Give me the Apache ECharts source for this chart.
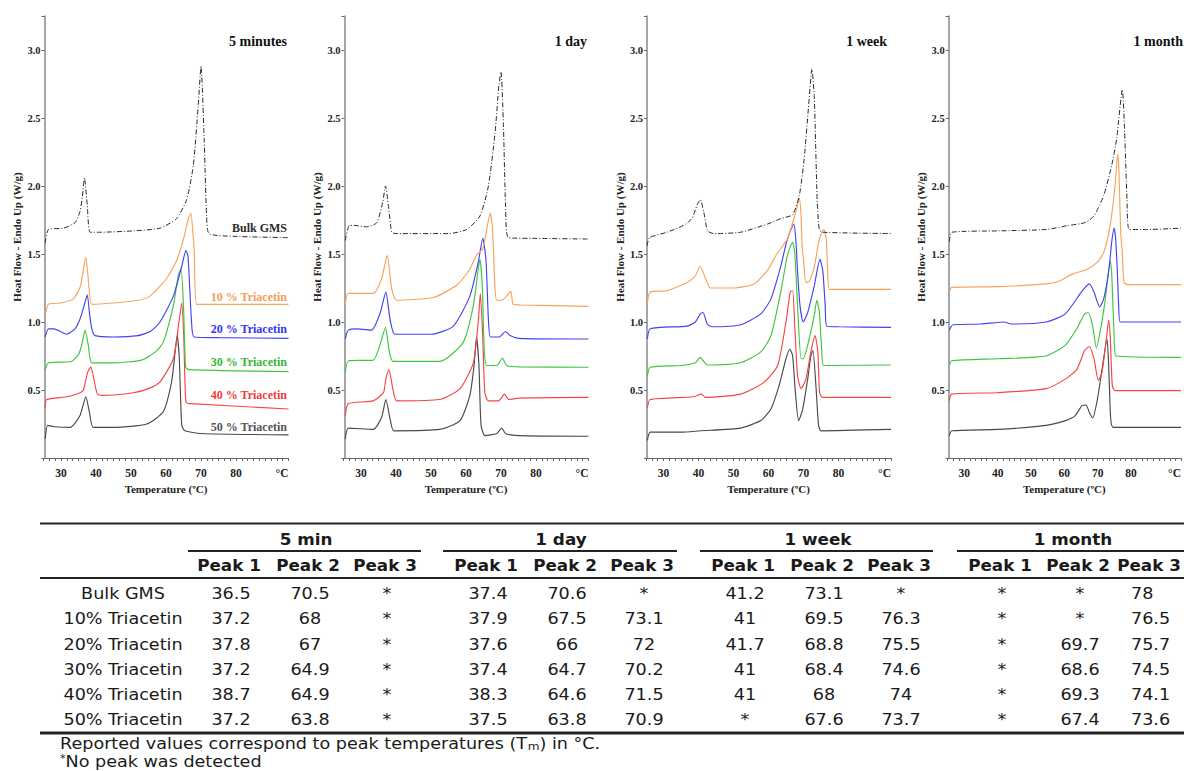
<!DOCTYPE html>
<html><head><meta charset="utf-8">
<script src="https://cdn.jsdelivr.net/npm/echarts@6/dist/echarts.min.js"></script>
<style>html,body{margin:0;padding:0;background:#fff;overflow:hidden}#c{width:1184px;height:771px}</style>
</head><body><div id="c"></div>
<script>
// ---------------- DATA: DSC curves [temperature °C, heat flow W/g] ----------------
const panelTitles = ['5 minutes', '1 day', '1 week', '1 month'];
const seriesNames = ['Bulk GMS', '10 % Triacetin', '20 % Triacetin', '30 % Triacetin', '40 % Triacetin', '50 % Triacetin'];

// 5 minutes
const bulk5m = [[25.5,1.58],[26.4,1.68],[30.7,1.69],[34,1.73],[35.4,1.81],[36.1,1.92],[36.7,2.06],[37.5,1.86],[38.3,1.66],[41,1.66],[50.7,1.67],[58.3,1.69],[63,1.76],[65.9,1.90],[67.8,2.15],[69.2,2.59],[70,2.88],[70.9,2.35],[71.6,1.78],[72.3,1.65],[79.2,1.63],[95,1.62]];
const tri10_5m = [[25.5,1.05],[26.4,1.13],[30,1.14],[33.5,1.17],[35.5,1.26],[37.1,1.475],[38,1.25],[38.8,1.13],[45,1.14],[52,1.16],[55.4,1.19],[60.2,1.32],[63,1.45],[65,1.61],[66.4,1.76],[67.1,1.80],[67.8,1.62],[68.1,1.50],[68.8,1.13],[75,1.13],[95,1.13]];
const tri20_5m = [[25.5,0.89],[26.4,0.95],[28,0.95],[31.6,0.91],[34,0.95],[35.4,1.02],[36.6,1.12],[37.5,1.20],[38.2,1.05],[38.8,0.95],[39.7,0.90],[45,0.89],[52,0.90],[55.5,0.93],[58.3,1.0],[62.1,1.19],[64.5,1.41],[65.7,1.525],[66.3,1.48],[67.3,1.0],[68,0.89],[75,0.885],[95,0.88]];
const tri30_5m = [[25.5,0.65],[26.4,0.70],[33,0.71],[35,0.76],[35.9,0.83],[36.9,0.94],[37.8,0.83],[38.8,0.70],[45,0.70],[53,0.72],[57,0.78],[59.2,0.85],[62.1,1.12],[63.5,1.34],[64.3,1.39],[65,1.12],[65.6,0.67],[66.5,0.65],[95,0.635]];
const tri40_5m = [[25.5,0.37],[25.9,0.43],[31.6,0.45],[35.5,0.48],[36.4,0.50],[37.6,0.63],[38.5,0.67],[39.4,0.58],[40.4,0.47],[42,0.46],[50.7,0.48],[55,0.51],[58.3,0.56],[62.1,0.73],[63.7,1.0],[64.5,1.14],[65.1,0.875],[65.7,0.41],[67,0.40],[95,0.36]];
const tri50_5m = [[25.5,0.14],[26.2,0.24],[28,0.23],[32.6,0.225],[35.4,0.31],[37.1,0.45],[38.1,0.34],[39.2,0.225],[45,0.225],[54.5,0.25],[59.2,0.34],[61.6,0.56],[62.6,0.78],[63.2,0.90],[63.8,0.73],[64.5,0.24],[65.4,0.20],[70,0.18],[95,0.17]];

// 1 day
const bulk1d = [[25.5,1.6],[26.7,1.71],[28,1.71],[31.6,1.70],[34.5,1.73],[36.2,1.88],[37,2.0],[37.8,1.86],[38.8,1.66],[40,1.65],[55,1.65],[60.2,1.68],[64,1.78],[66.4,2.0],[68.3,2.39],[69.4,2.74],[70,2.84],[70.7,2.44],[71.3,1.86],[72.1,1.62],[80,1.615],[95,1.61]];
const tri10_1d = [[25.5,1.13],[26.4,1.21],[33.5,1.21],[35.9,1.32],[37.5,1.49],[38.8,1.24],[40.2,1.16],[50.7,1.18],[57.3,1.27],[61.1,1.39],[63,1.49],[64.8,1.54],[65.9,1.68],[66.9,1.80],[67.5,1.71],[67.8,1.56],[68.3,1.24],[68.8,1.16],[70.2,1.16],[71.6,1.19],[72.8,1.225],[73.5,1.13],[76,1.125],[95,1.115]];
const tri20_1d = [[25.5,0.875],[26.4,0.94],[29,0.95],[33,0.94],[35.4,1.06],[37.1,1.22],[38.3,1.02],[39.7,0.91],[50,0.91],[56.4,0.97],[61.1,1.19],[63.5,1.44],[64.8,1.615],[65.7,1.46],[66.4,1.02],[67,0.89],[69.5,0.89],[71.3,0.93],[72.6,0.90],[75,0.88],[95,0.875]];
const tri30_1d = [[25.5,0.63],[26.4,0.715],[33.5,0.72],[35.4,0.83],[37,0.96],[38.1,0.78],[39.2,0.71],[52.5,0.71],[59.2,0.85],[62.1,1.12],[63.5,1.39],[64,1.46],[64.7,1.24],[65.2,0.80],[65.9,0.68],[68.8,0.68],[70.4,0.735],[71.6,0.68],[75,0.67],[95,0.667]];
const tri40_1d = [[25.5,0.31],[26.4,0.40],[33.5,0.42],[36.4,0.48],[37.1,0.58],[38,0.65],[38.95,0.53],[40.2,0.42],[52.5,0.43],[58.3,0.51],[62.1,0.70],[63.5,1.0],[64.1,1.21],[64.8,0.875],[65.4,0.48],[66.4,0.42],[69.3,0.42],[71,0.47],[72.2,0.43],[75,0.44],[95,0.446]];
const tri50_1d = [[25.5,0.14],[26.4,0.22],[33.5,0.21],[35.9,0.30],[37.1,0.43],[38.3,0.29],[39.4,0.20],[52.5,0.21],[58.3,0.275],[61.1,0.46],[62.3,0.68],[63,0.89],[63.7,0.68],[64.3,0.24],[65.4,0.165],[68.8,0.18],[70.2,0.22],[71.3,0.18],[75,0.165],[95,0.16]];

// 1 week
const bulk1w = [[25.3,1.56],[26,1.62],[31,1.66],[35.7,1.71],[38.1,1.76],[39.6,1.86],[40.5,1.90],[41.5,1.81],[42.6,1.67],[44.4,1.65],[52,1.66],[59.7,1.72],[63.5,1.76],[66.9,1.79],[68.8,1.93],[70.2,2.20],[71.4,2.57],[72.4,2.86],[73.1,2.64],[73.9,1.90],[74.5,1.68],[75.5,1.66],[95,1.65]];
const tri10_1w = [[25.4,1.14],[26.2,1.22],[31,1.23],[36.7,1.29],[39.1,1.34],[40.5,1.41],[42,1.32],[43.4,1.25],[50.1,1.25],[55.9,1.28],[59.7,1.38],[62.6,1.51],[65.4,1.61],[67.8,1.81],[68.8,1.91],[69.3,1.78],[69.6,1.56],[70,1.46],[70.7,1.29],[71.7,1.30],[73.1,1.41],[74.5,1.61],[75.3,1.66],[75.8,1.68],[76.5,1.61],[76.9,1.37],[77.4,1.24],[80,1.24],[95,1.24]];
const tri20_1w = [[25.4,0.875],[26.2,0.95],[36.7,0.97],[39.1,1.0],[40.5,1.06],[41.3,1.07],[42.5,0.985],[43.9,0.965],[52,0.98],[57.8,1.06],[60.7,1.17],[63.5,1.41],[65.4,1.61],[67.2,1.72],[67.8,1.61],[68.3,1.37],[69,1.12],[69.9,1.0],[71.2,1.07],[73.1,1.27],[74.7,1.46],[75.5,1.38],[76.2,1.12],[76.6,0.97],[80,0.965],[95,0.96]];
const tri30_1w = [[25.4,0.605],[26.2,0.667],[35,0.68],[39.1,0.70],[40.5,0.74],[41.5,0.71],[42.5,0.684],[52,0.70],[57.8,0.78],[60.7,0.90],[63.5,1.22],[65.4,1.49],[66.9,1.585],[67.5,1.51],[68.3,1.12],[69.3,0.73],[69.9,0.73],[71.2,0.83],[73.1,1.05],[73.8,1.16],[74.5,1.08],[75.2,0.80],[75.8,0.68],[95,0.684]];
const tri40_1w = [[25.4,0.37],[26.2,0.43],[38.6,0.45],[40.8,0.47],[42,0.446],[52,0.47],[58.7,0.556],[62.6,0.68],[65,1.0],[66.2,1.22],[66.9,1.23],[67.5,0.97],[68.3,0.605],[69.3,0.51],[70.7,0.58],[72.1,0.78],[73.3,0.90],[74.1,0.78],[74.6,0.48],[75.5,0.446],[95,0.446]];
const tri50_1w = [[25.4,0.13],[26.2,0.19],[35,0.19],[40.5,0.20],[52,0.22],[57.8,0.275],[60.7,0.36],[63,0.53],[65,0.73],[66.1,0.80],[66.9,0.75],[67.6,0.51],[68.6,0.275],[69.7,0.35],[71.2,0.58],[72.1,0.75],[72.7,0.79],[73.6,0.51],[74.3,0.24],[75,0.20],[95,0.21]];

// 1 month
const bulk1m = [[25.5,1.59],[26.2,1.66],[40.1,1.67],[54.5,1.68],[61.25,1.71],[66.1,1.73],[68.9,1.78],[71.8,1.93],[74.2,2.15],[75.7,2.35],[77.4,2.71],[78.1,2.39],[78.8,1.90],[79.5,1.68],[85,1.68],[95,1.69]];
const tri10_1m = [[25.5,1.22],[26.2,1.255],[40,1.26],[54.5,1.28],[58.4,1.30],[62.2,1.35],[67,1.39],[69.9,1.44],[71.8,1.51],[73.75,1.71],[75.2,2.0],[76,2.235],[76.4,2.10],[76.9,1.66],[77.4,1.51],[77.9,1.29],[79,1.275],[95,1.275]];
const tri20_1m = [[25.5,0.94],[26.6,0.98],[35,0.985],[42,1.0],[44,0.985],[54.5,1.0],[60.3,1.06],[65.1,1.22],[67.5,1.28],[68.9,1.22],[70.6,1.11],[71.8,1.17],[73.3,1.37],[74.2,1.585],[74.9,1.69],[75.4,1.61],[75.9,1.37],[76.3,1.12],[76.8,1.0],[95,1.0]];
const tri30_1m = [[25.5,0.68],[26.2,0.715],[40,0.73],[54.5,0.75],[60.3,0.83],[63.7,0.95],[66.1,1.06],[67.2,1.07],[68.5,0.97],[69.6,0.81],[70.9,0.95],[72.3,1.17],[73.75,1.45],[74.2,1.365],[74.9,0.92],[75.5,0.75],[95,0.74]];
const tri40_1m = [[25.5,0.42],[26.2,0.47],[40,0.48],[54.5,0.51],[60.3,0.58],[63.7,0.65],[66.1,0.79],[67.5,0.82],[68.9,0.73],[70.2,0.57],[71.3,0.63],[72.6,0.875],[73.3,1.015],[73.75,0.90],[74.4,0.53],[75.2,0.495],[95,0.495]];
const tri50_1m = [[25.5,0.165],[26.2,0.20],[40,0.21],[54.5,0.24],[60.3,0.275],[63.2,0.31],[65.3,0.385],[66.5,0.39],[67.5,0.335],[68.5,0.294],[69.9,0.43],[71.3,0.65],[72.8,0.875],[73.3,0.68],[73.9,0.29],[74.7,0.225],[95,0.225]];

// ---------------- DATA: table ----------------
const tableGroups = ['5 min', '1 day', '1 week', '1 month'];
const peakHeaders = ['Peak 1', 'Peak 2', 'Peak 3'];
const rowLabels = ['Bulk GMS', '10% Triacetin', '20% Triacetin', '30% Triacetin', '40% Triacetin', '50% Triacetin'];
const tbl5min = [['36.5','70.5','*'],['37.2','68','*'],['37.8','67','*'],['37.2','64.9','*'],['38.7','64.9','*'],['37.2','63.8','*']];
const tbl1day = [['37.4','70.6','*'],['37.9','67.5','73.1'],['37.6','66','72'],['37.4','64.7','70.2'],['38.3','64.6','71.5'],['37.5','63.8','70.9']];
const tbl1week = [['41.2','73.1','*'],['41','69.5','76.3'],['41.7','68.8','75.5'],['41','68.4','74.6'],['41','68','74'],['*','67.6','73.7']];
const tbl1month = [['*','*','78'],['*','*','76.5'],['*','69.7','75.7'],['*','68.6','74.5'],['*','69.3','74.1'],['*','67.4','73.6']];
const footnote1 = 'Reported values correspond to peak temperatures (T{sub|m}) in °C.';
const footnote2 = '{sup|*}No peak was detected';

// ---------------- LAYOUT / STYLE ----------------
const panelData = [
  [bulk5m, tri10_5m, tri20_5m, tri30_5m, tri40_5m, tri50_5m],
  [bulk1d, tri10_1d, tri20_1d, tri30_1d, tri40_1d, tri50_1d],
  [bulk1w, tri10_1w, tri20_1w, tri30_1w, tri40_1w, tri50_1w],
  [bulk1m, tri10_1m, tri20_1m, tri30_1m, tri40_1m, tri50_1m]
];
const lineColors = ['#2a2a2a', '#f9a25a', '#4343f3', '#3fc63f', '#f54545', '#4a4a4a'];
const labelColors = ['#2a2a2a', '#f5a05a', '#3535ee', '#34b834', '#f03a3a', '#555555'];
const gridLefts = [43.5, 343.5, 646, 947.7];
const titleRights = [287, 587, 887, 1183];
const PW = 245, PT = 16, PH = 442;
const SERIF = 'Liberation Serif';
const SANS = 'DejaVu Sans';

function xLab(v) {
  const r = Math.round(v);
  if (Math.abs(v - 95) < 0.01) return '°C';
  if (Math.abs(v - r) < 0.01 && r % 10 === 0 && r >= 30 && r <= 80) return String(r);
  return '';
}
function yLab(v) {
  if (v > 0.01 && v < 3.01 && Math.abs(v * 2 - Math.round(v * 2)) < 1e-6) return v.toFixed(1);
  return '';
}

const grids = [], xAxes = [], yAxes = [], series = [];
gridLefts.forEach((l, i) => {
  grids.push({ left: l, top: PT, width: PW, height: PH });
  xAxes.push({
    type: 'value', gridIndex: i, min: 25, max: 95, interval: 10 / 6,
    name: 'Temperature (ºC)', nameLocation: 'middle', nameGap: 25,
    nameTextStyle: { fontFamily: SERIF, fontWeight: 'bold', fontSize: 11, color: '#222' },
    axisLine: { onZero: false, lineStyle: { color: '#666', width: 1.2 } },
    axisTick: { length: 3, lineStyle: { color: '#666', width: 1 } },
    splitLine: { show: false },
    axisLabel: { formatter: xLab, margin: 9, fontFamily: SERIF, fontWeight: 'bold', fontSize: 11.5, color: '#222',
                 showMaxLabel: true, showMinLabel: true, alignMaxLabel: 'right' }
  });
  yAxes.push({
    type: 'value', gridIndex: i, min: 0, max: 3.25, interval: 0.5, offset: -1,
    name: 'Heat Flow - Endo Up (W/g)', nameLocation: 'middle', nameGap: 22,
    nameTextStyle: { fontFamily: SERIF, fontWeight: 'bold', fontSize: 11, color: '#222' },
    axisLine: { show: true, lineStyle: { color: '#888', width: 1.5 } },
    axisTick: { show: true, length: 3, lineStyle: { color: '#666' } },
    splitLine: { show: false },
    axisLabel: { formatter: yLab, margin: 4, fontFamily: SERIF, fontWeight: 'bold', fontSize: 10.5, color: '#222' }
  });
  panelData[i].forEach((d, j) => {
    series.push({
      type: 'line', name: seriesNames[j], xAxisIndex: i, yAxisIndex: i, data: d,
      showSymbol: false, smooth: 0.2, silent: true, clip: true,
      lineStyle: { color: lineColors[j], width: j === 0 ? 1 : 1.15, type: j === 0 ? [5, 2, 1, 2] : 'solid' },
      z: 10 - j
    });
  });
});

// ---------- graphic: panel titles, curve labels, table ----------
const g = [];
function txt(x, y, text, font, fill, align, extra, sx) {
  const el = { type: 'text', x: x, y: y, scaleX: sx || 1, silent: true, z: 100,
    style: Object.assign({ text: text, font: font, fill: fill, align: align || 'left', textAlign: align || 'left',
      verticalAlign: 'middle', textVerticalAlign: 'middle' }, extra || {}) };
  g.push(el);
}
function hline(x1, x2, y, w) {
  g.push({ type: 'line', silent: true, z: 100, shape: { x1: x1, y1: y, x2: x2, y2: y }, style: { stroke: '#222', lineWidth: w } });
}

panelTitles.forEach((t, i) => {
  txt(titleRights[i], 41, t, 'bold 14px "' + SERIF + '"', '#111', 'right');
});
const curveLabelY = [228, 297, 329, 362, 395, 427];
seriesNames.forEach((n, j) => {
  txt(gridLefts[0] + PW - 1.5, curveLabelY[j], n, 'bold 12px "' + SERIF + '"', labelColors[j], 'right');
});

// table
const tblData = [tbl5min, tbl1day, tbl1week, tbl1month];
const groupCenters = [306, 561, 818, 1073];
const underlines = [[188, 421], [443, 677], [700, 933], [957, 1190]];
const peakCols = [[229, 308, 385], [486, 565, 642], [743, 822, 899], [1000, 1078, 1149]];
const rowY0 = 593.5, rowStep = 25.2;
const fB = 'bold 16px "' + SANS + '"', fR = '16px "' + SANS + '"';
const SXR = 1.1, SXB = 1.05;

hline(40, 1184, 523.5, 2);
hline(40, 1184, 578, 2);
hline(40, 1184, 733, 3);
tableGroups.forEach((t, i) => {
  txt(groupCenters[i], 540, t, fB, '#1a1a1a', 'center', null, SXB);
  hline(underlines[i][0], underlines[i][1], 551, 2);
  peakHeaders.forEach((p, k) => txt(peakCols[i][k], 566, p, fB, '#1a1a1a', 'center', null, SXB));
});
rowLabels.forEach((r, ri) => {
  const y = rowY0 + ri * rowStep;
  txt(123, y, r, fR, '#1a1a1a', 'center', null, SXR);
  tblData.forEach((grp, gi) => {
    grp[ri].forEach((v, k) => {
      const last = gi === 3 && k === 2;
      txt(last ? 1131 : peakCols[gi][k] + 2, y, v, fR, '#1a1a1a', last ? 'left' : 'center', null, SXR);
    });
  });
});
txt(60, 743.5, footnote1, fR, '#1a1a1a', 'left', {
  rich: { sub: { font: '11px "' + SANS + '"', fill: '#1a1a1a', verticalAlign: 'bottom' } }
}, SXR);
txt(60, 761.5, footnote2, fR, '#1a1a1a', 'left', {
  rich: { sup: { font: '10px "' + SANS + '"', fill: '#1a1a1a', verticalAlign: 'top' } }
}, SXR);

const chart = echarts.init(document.getElementById('c'), null, { renderer: 'svg' });
chart.setOption({
  animation: false,
  backgroundColor: '#ffffff',
  grid: grids, xAxis: xAxes, yAxis: yAxes, series: series,
  graphic: { elements: g }
});
</script></body></html>
